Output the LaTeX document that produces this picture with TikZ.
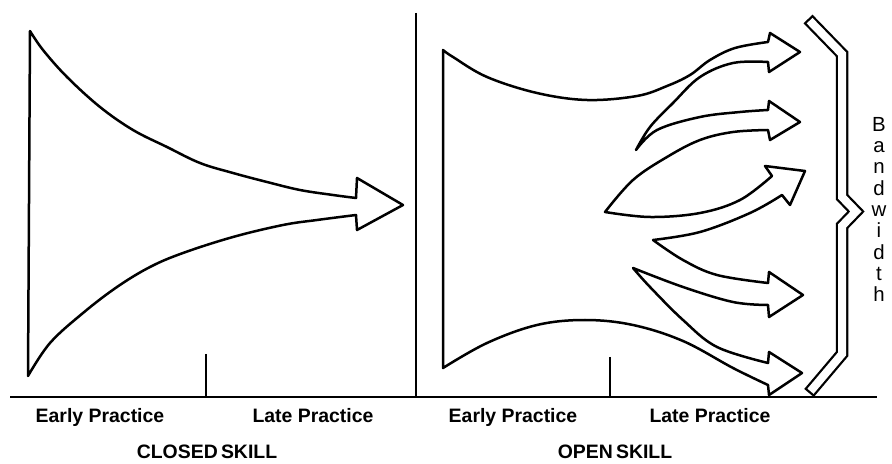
\documentclass[tikz,border=0pt]{standalone}
\usepackage{fontspec}
\setmainfont{Liberation Sans}
\begin{document}
\begin{tikzpicture}[x=1bp,y=-1bp,line join=round,line cap=round,
  outline/.style={draw=black,line width=2.5bp},
  rule/.style={draw=black,line width=2.2bp,line cap=butt},
  lbl/.style={font=\bfseries\fontsize{19.5}{19.5}\selectfont,anchor=base,inner sep=0pt},
  bracefill/.style={line width=12.5bp,draw=black,line join=miter,line cap=butt},
  bracehole/.style={line width=8bp,draw=white,line join=miter,line cap=butt,shorten <=2.3bp,shorten >=2.3bp}]
\useasboundingbox (0,0) rectangle (892,464);

% ---------- closed skill funnel ----------
\draw[outline] (30,31)
  -- plot[smooth,tension=0.6] coordinates {(30,31) (43,50) (67,77) (100,107) (133,130) (167,147) (200,163) (233,173) (267,182) (300,190) (333,195) (356,198)}
  -- (357,178) -- (403,205) -- (357,230)
  -- plot[smooth,tension=0.6] coordinates {(356,215) (317,220) (283,225) (233,237) (183,253) (150,267) (117,287) (83,313) (50,343) (28,376)}
  -- cycle;

% ---------- open skill funnel ----------
\draw[outline] (443,50)
  -- plot[smooth,tension=0.6] coordinates {(443,50) (453,57) (487,77) (537,93) (587,100) (637,96) (667,86) (690,75) (710,60) (735,48) (768,42)}
  -- (770,33) -- (800,52) -- (769,72)
  -- plot[smooth,tension=0.6] coordinates {(768,62) (733,63) (700,77) (673,103) (650,127) (636,150)}
  -- plot[smooth,tension=0.6] coordinates {(636,150) (657,130) (700,117) (740,112) (768,110)}
  -- (769,101) -- (800,122) -- (770,140)
  -- plot[smooth,tension=0.6] coordinates {(768,130) (733,132) (700,140) (667,157) (633,180) (605,212)}
  -- plot[smooth,tension=0.6] coordinates {(605,212) (650,217) (700,213) (740,200) (772,176)}
  -- (765,166) -- (805,171) -- (790,205) -- (782,195)
  -- plot[smooth,tension=0.6] coordinates {(782,195) (750,213) (700,232) (653,240)}
  -- plot[smooth,tension=0.6] coordinates {(653,240) (683,260) (717,275) (768,283)}
  -- (769,272) -- (803,295) -- (769,317)
  -- plot[smooth,tension=0.6] coordinates {(768,305) (733,302) (683,287) (633,268)}
  -- plot[smooth,tension=0.6] coordinates {(633,268) (650,287) (683,320) (717,347) (768,363)}
  -- (769,352) -- (802,373) -- (769,395)
  -- plot[smooth,tension=0.6] coordinates {(768,385) (733,368) (683,341) (633,325) (585,320) (537,325) (487,343) (443,368)}
  -- cycle;

% ---------- brace ----------
\draw[bracefill] (808,19) -- (842,54) -- (842,197) -- (856,211.5) -- (842,226) -- (842,354) -- (809,393);
\draw[bracehole] (808,19) -- (842,54) -- (842,197) -- (856,211.5) -- (842,226) -- (842,354) -- (809,393);

% ---------- axes ----------
\coordinate (bl) at (10,397);
\coordinate (br) at (877,397);
\coordinate (dtop) at (416,13);
\coordinate (dbot) at (416,397);
\coordinate (t1top) at (206,354);
\coordinate (t1bot) at (206,397);
\coordinate (t2top) at (610,357);
\coordinate (t2bot) at (610,397);
\draw[rule] (bl) -- (br);
\draw[rule,line width=2.8bp] (dtop) -- (dbot);
\draw[rule] (t1top) -- (t1bot);
\draw[rule] (t2top) -- (t2bot);

% ---------- labels ----------
\node[lbl] (ep1) at (100,422) {Early Practice};
\node[lbl] (lp1) at (313,422) {Late Practice};
\node[lbl] (ep2) at (513,422) {Early Practice};
\node[lbl] (lp2) at (710,422) {Late Practice};
\node[lbl] (cs) at (207,458) {CLOSED\,SKILL};
\node[lbl] (os) at (615,458) {OPEN\,SKILL};
\node[align=center,inner sep=0pt,anchor=north,font=\fontsize{20.5}{21.4}\selectfont] (bw) at (879,117) {B\\a\\n\\d\\w\\i\\d\\t\\h};
\end{tikzpicture}
\end{document}
